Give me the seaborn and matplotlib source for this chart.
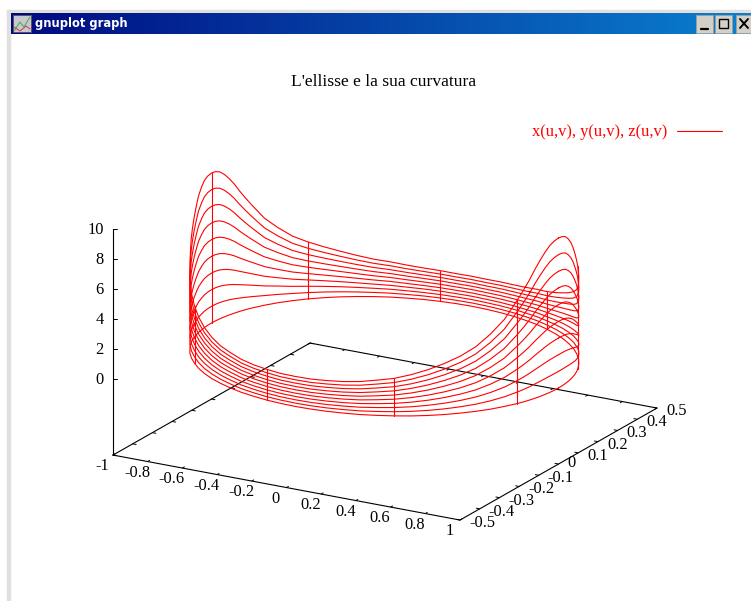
"""L'ellisse e la sua curvatura: finestra gnuplot ridisegnata con seaborn"""

import numpy as np
import pandas as pd
import matplotlib
matplotlib.use("Agg")
import matplotlib.pyplot as plt
from matplotlib.colors import LinearSegmentedColormap
from matplotlib.patches import Rectangle
import seaborn as sns

# anello dell'ellisse, piu' fitto vicino ai due picchi
u_deg = [0, 2.5, 5, 7.5, 10, 12.5, 15, 17.5, 20,
         25, 30, 35, 40, 45, 50, 55, 60, 65, 70, 75, 80, 85, 90,
         95, 100, 105, 110, 115, 120, 125, 130, 135, 140, 145, 150, 155,
         160, 162.5, 165, 167.5, 170, 172.5, 175, 177.5, 180,
         182.5, 185, 187.5, 190, 192.5, 195, 197.5, 200,
         205, 210, 215, 220, 225, 230, 235, 240, 245, 250, 255, 260, 265, 270,
         275, 280, 285, 290, 295, 300, 305, 310, 315, 320, 325, 330, 335,
         340, 342.5, 345, 347.5, 350, 352.5, 355, 357.5, 360]
x_ring = [1, .999, .996, .991, .985, .976, .966, .954, .94,
          .906, .866, .819, .766, .707, .643, .574, .5, .423, .342, .259, .174, .087, 0,
          -.087, -.174, -.259, -.342, -.423, -.5, -.574, -.643, -.707, -.766, -.819, -.866, -.906,
          -.94, -.954, -.966, -.976, -.985, -.991, -.996, -.999, -1,
          -.999, -.996, -.991, -.985, -.976, -.966, -.954, -.94,
          -.906, -.866, -.819, -.766, -.707, -.643, -.574, -.5, -.423, -.342, -.259, -.174, -.087, 0,
          .087, .174, .259, .342, .423, .5, .574, .643, .707, .766, .819, .866, .906,
          .94, .954, .966, .976, .985, .991, .996, .999, 1]
y_ring = [0, .019, .038, .057, .076, .095, .114, .132, .15,
          .186, .22, .252, .283, .311, .337, .36, .381, .399, .413, .425, .433, .438, .44,
          .438, .433, .425, .413, .399, .381, .36, .337, .311, .283, .252, .22, .186,
          .15, .132, .114, .095, .076, .057, .038, .019, 0,
          -.02, -.04, -.059, -.079, -.098, -.118, -.137, -.156,
          -.192, -.228, -.261, -.292, -.322, -.349, -.373, -.394, -.412, -.428, -.439, -.448, -.453, -.455,
          -.453, -.448, -.439, -.428, -.412, -.394, -.373, -.349, -.322, -.292, -.261, -.228, -.192,
          -.156, -.137, -.118, -.098, -.079, -.059, -.04, -.02, 0]
z_top = [10, 9.95, 9.8, 9.5, 9.1, 8.6, 8, 7.45, 6.9,
         5.8, 5, 4.3, 3.8, 3.4, 3.05, 2.75, 2.5, 2.35, 2.2, 2.1, 2.05, 2, 2,
         2, 2.05, 2.1, 2.2, 2.35, 2.5, 2.75, 3.05, 3.4, 3.8, 4.3, 5, 5.8,
         6.9, 7.45, 8, 8.6, 9.1, 9.5, 9.8, 9.95, 10,
         9.95, 9.8, 9.5, 9.1, 8.6, 8, 7.45, 6.9,
         5.8, 5, 4.3, 3.8, 3.4, 3.05, 2.75, 2.5, 2.35, 2.2, 2.1, 2.05, 2, 2,
         2, 2.05, 2.1, 2.2, 2.35, 2.5, 2.75, 3.05, 3.4, 3.8, 4.3, 5, 5.8,
         6.9, 7.45, 8, 8.6, 9.1, 9.5, 9.8, 9.95, 10]
levels = [0, .111, .222, .333, .444, .556, .667, .778, .889, 1]
stripe_deg = [20, 60, 100, 140, 180, 220, 260, 300, 340]

x_ticks = [-1, -.8, -.6, -.4, -.2, 0, .2, .4, .6, .8, 1]
x_labels = ["-1", "-0.8", "-0.6", "-0.4", "-0.2", "0", "0.2", "0.4", "0.6", "0.8", "1"]
y_ticks = [-.5, -.4, -.3, -.2, -.1, 0, .1, .2, .3, .4, .5]
y_labels = ["-0.5", "-0.4", "-0.3", "-0.2", "-0.1", "0", "0.1", "0.2", "0.3", "0.4", "0.5"]
z_ticks = [0, 2, 4, 6, 8, 10]
z_floor = -5.07

RED = "#ff0000"
SERIF = ["Liberation Serif", "DejaVu Serif"]
TICK_SIZE = 11.8


def project(x, y, z):
    # vista fissa di gnuplot, da dati a pixel della finestra
    x, y, z = np.broadcast_arrays(np.asarray(x, float), np.asarray(y, float), np.asarray(z, float))
    return 385 + 173.5 * x + 197 * y, 355.5 + 32.5 * x - 112 * y - 15 * z


sns.set_style("white")
plt.rcParams["font.family"] = SERIF
plt.rcParams["text.color"] = "black"
fig = plt.figure(figsize=(7.51, 6.01), dpi=100)
ax = fig.add_axes([0, 0, 1, 1])

# superficie: curve a livello costante + tratti verticali
x_arr, y_arr, z_arr = np.array(x_ring), np.array(y_ring), np.array(z_top)
rows = []
for lev in levels:
    sx, sy = project(x_arr, y_arr, z_arr * lev)
    rows.append(pd.DataFrame({"sx": sx, "sy": sy, "curve": f"v{lev}"}))
for deg in stripe_deg:
    i = u_deg.index(deg)
    sx, sy = project(x_arr[i], y_arr[i], z_arr[i] * np.array(levels))
    rows.append(pd.DataFrame({"sx": sx, "sy": sy, "curve": f"u{deg}"}))
surface = pd.concat(rows, ignore_index=True)
sns.lineplot(data=surface, x="sx", y="sy", units="curve", estimator=None, sort=False,
             color=RED, lw=0.8, legend=False, ax=ax, zorder=3)

# scatola degli assi
corner_x = [-1, 1, 1, -1, -1]
corner_y = [-.5, -.5, .5, .5, -.5]
bx, by = project(corner_x, corner_y, [z_floor] * 5)
ax.plot(bx, by, color="black", lw=0.8, zorder=2)
zx, zy = project([-1, -1], [-.5, -.5], [z_floor, 10])
ax.plot(zx, zy, color="black", lw=0.8, zorder=2)

# tacche e etichette
for val, lab in zip(x_ticks, x_labels):
    sx, sy = project([val, val], [-.5, -.49], [z_floor] * 2)
    ax.plot(sx, sy, color="black", lw=0.7)
    sx2, sy2 = project([val, val], [.5, .49], [z_floor] * 2)
    ax.plot(sx2, sy2, color="black", lw=0.7)
    ax.text(sx[0] - 10.5, sy[0] + 11, lab, ha="center", va="center", fontsize=TICK_SIZE)
for val, lab in zip(y_ticks, y_labels):
    sx, sy = project([1, .98], [val, val], [z_floor] * 2)
    ax.plot(sx, sy, color="black", lw=0.7)
    sx2, sy2 = project([-1, -.98], [val, val], [z_floor] * 2)
    ax.plot(sx2, sy2, color="black", lw=0.7)
    shift = -1 if lab == "0" else 3
    ax.text(sx[0] + 9, sy[0] + shift, lab, ha="left", va="center", fontsize=TICK_SIZE)
for val in z_ticks:
    sx, sy = project([-1], [-.5], [val])
    ax.plot([sx[0], sx[0] + 4], [sy[0], sy[0]], color="black", lw=0.7)
    ax.text(sx[0] - 9, sy[0] + 1, str(val), ha="right", va="center", fontsize=TICK_SIZE)

ax.text(384, 82, "L'ellisse e la sua curvatura", ha="center", va="center", fontsize=12.6)
ax.text(667, 132, "x(u,v), y(u,v), z(u,v)", ha="right", va="center", fontsize=11.9, color=RED)
ax.plot([677, 722], [131, 131], color=RED, lw=0.8)

# cornice della finestra
ax.add_patch(Rectangle((7, 10), 744, 3, color="#e2e0dc", zorder=1))
ax.add_patch(Rectangle((7, 10), 3, 591, color="#e2e0dc", zorder=1))
bar = LinearSegmentedColormap.from_list("bar", ["#000a80", "#0a80d0"])
ax.imshow(np.linspace(0, 1, 256)[None, :], cmap=bar, extent=(11, 751, 34, 13), aspect="auto", zorder=1)
ax.text(35, 24, "gnuplot graph", ha="left", va="center", color="white", fontsize=8.3,
        fontweight="bold", family="DejaVu Sans")
ax.add_patch(Rectangle((13, 15), 18, 17, facecolor="#c8c8d0", edgecolor="#505060", lw=0.6, zorder=2))
ax.plot([14, 20, 24, 30], [31, 22, 27, 17], color="#40b040", lw=0.7, zorder=3)
ax.plot([14, 20, 26, 30], [27, 31, 26, 29], color="#d04040", lw=0.7, zorder=3)
for left, width in [(696, 17), (715, 17), (736, 16)]:
    ax.add_patch(Rectangle((left, 15), width, 18, facecolor="#d4d0c8", edgecolor="#a0a0a0", lw=0.5, zorder=2))
ax.plot([701, 708], [28.5, 28.5], color="black", lw=1.6, zorder=3)
ax.add_patch(Rectangle((719, 19), 9, 9, fill=False, edgecolor="black", lw=1, zorder=3))
ax.plot([740, 748], [19, 28], color="black", lw=1.4, zorder=3)
ax.plot([740, 748], [28, 19], color="black", lw=1.4, zorder=3)

ax.set_xlim(0, 751)
ax.set_ylim(601, 0)
ax.axis("off")
fig.savefig("out.png", dpi=100)
